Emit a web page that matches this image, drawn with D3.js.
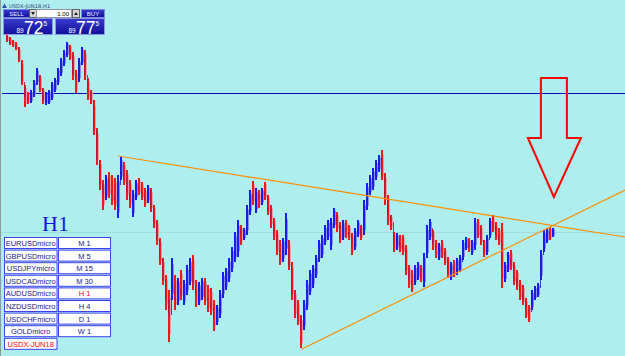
<!DOCTYPE html>
<html><head><meta charset="utf-8">
<script src="https://cdn.jsdelivr.net/npm/d3@7"></script>
<style>html,body{margin:0;padding:0;background:#AFEEEE;overflow:hidden}</style>
</head><body><svg id="c" width="625" height="356"></svg>
<script>
const chartTitle = "USDX-JUN18,H1";
const highs = [91.65,91.63,91.60,91.58,91.53,91.40,91.15,91.08,91.10,91.20,91.32,91.25,91.12,91.08,91.10,91.18,91.22,91.32,91.42,91.50,
91.58,91.55,91.48,91.30,91.42,91.53,91.50,91.22,91.10,91.00,90.72,90.40,90.20,90.25,90.28,90.25,90.22,90.25,90.43,90.38,
90.30,90.20,90.10,90.20,90.22,90.18,90.12,90.15,90.12,89.95,89.80,89.62,89.42,89.25,89.10,89.42,89.25,89.22,89.30,89.20,
89.35,89.42,89.45,89.20,89.18,89.22,89.22,89.15,89.12,89.00,88.95,89.10,89.28,89.32,89.42,89.53,89.68,89.80,89.75,89.72,
89.95,90.10,90.19,90.12,90.10,90.12,90.18,90.05,89.95,89.82,89.70,89.60,89.62,89.87,89.60,89.38,89.10,89.00,88.85,89.00,
89.20,89.30,89.35,89.45,89.60,89.65,89.75,89.80,89.82,89.92,89.88,89.78,89.80,89.80,89.75,89.67,89.72,89.80,89.75,90.00,
90.17,90.25,90.32,90.40,90.45,90.50,90.27,90.05,89.85,89.68,89.67,89.65,89.65,89.55,89.35,89.30,89.35,89.38,89.35,89.47,
89.75,89.81,89.70,89.60,89.57,89.60,89.52,89.43,89.38,89.40,89.42,89.45,89.60,89.63,89.62,89.60,89.82,89.81,89.75,89.60,
89.65,89.82,89.85,89.78,89.72,89.77,89.38,89.48,89.50,89.38,89.30,89.20,89.15,89.02,88.95,89.10,89.14,89.17,89.50,89.70,
89.72,89.73,89.72];
const lows = [91.58,91.55,91.53,91.50,91.38,91.15,90.93,90.96,90.97,91.03,91.15,91.08,90.96,90.95,90.96,91.00,91.08,91.15,91.24,91.34,
91.43,91.40,91.20,91.07,91.18,91.35,91.20,91.00,90.96,90.65,90.35,90.10,89.90,90.00,90.02,89.95,89.90,89.82,90.20,90.15,
90.00,89.92,89.83,90.00,90.05,90.00,89.93,89.97,89.88,89.72,89.55,89.35,89.15,88.90,88.58,89.00,88.90,88.95,89.00,88.95,
89.05,89.15,89.10,88.93,88.95,89.00,88.95,88.88,88.85,88.69,88.75,88.82,89.02,89.10,89.18,89.28,89.38,89.43,89.55,89.60,
89.65,89.85,89.95,89.87,89.92,89.95,90.00,89.85,89.72,89.60,89.45,89.35,89.38,89.45,89.30,89.00,88.82,88.75,88.52,88.70,
88.90,89.05,89.12,89.22,89.38,89.42,89.55,89.60,89.50,89.72,89.68,89.57,89.60,89.62,89.60,89.45,89.50,89.63,89.60,89.65,
89.90,90.05,90.10,90.20,90.28,90.20,89.95,89.75,89.70,89.48,89.50,89.48,89.45,89.25,89.12,89.08,89.15,89.20,89.18,89.13,
89.42,89.60,89.50,89.42,89.40,89.42,89.35,89.22,89.20,89.23,89.25,89.28,89.40,89.50,89.48,89.45,89.50,89.62,89.55,89.43,
89.45,89.62,89.68,89.60,89.55,89.12,89.18,89.28,89.30,89.15,89.10,89.00,88.95,88.82,88.78,88.90,89.00,89.03,89.20,89.48,
89.57,89.60,89.63];
const closes = [91.60,91.57,91.55,91.52,91.40,91.18,91.02,91.00,91.05,91.18,91.25,91.12,91.00,91.02,91.05,91.12,91.18,91.28,91.38,91.45,
91.52,91.45,91.25,91.20,91.38,91.48,91.25,91.08,91.00,90.70,90.40,90.15,90.05,90.20,90.10,90.05,90.00,90.15,90.35,90.22,
90.08,90.00,90.05,90.15,90.10,90.05,90.00,90.10,89.92,89.78,89.60,89.42,89.20,89.00,88.85,89.15,89.00,89.10,89.05,89.15,
89.25,89.30,89.15,89.05,89.10,89.15,89.02,89.00,88.92,88.80,88.90,89.05,89.20,89.25,89.35,89.45,89.60,89.70,89.65,89.68,
89.90,90.05,90.00,90.05,90.00,90.08,90.05,89.90,89.78,89.65,89.50,89.45,89.55,89.60,89.35,89.05,88.90,88.82,88.70,88.95,
89.10,89.20,89.30,89.40,89.50,89.60,89.70,89.72,89.75,89.85,89.75,89.62,89.72,89.68,89.65,89.52,89.68,89.72,89.65,89.95,
90.10,90.20,90.25,90.35,90.42,90.25,90.02,89.85,89.78,89.55,89.60,89.55,89.52,89.30,89.20,89.15,89.28,89.32,89.25,89.42,
89.68,89.72,89.55,89.50,89.52,89.48,89.40,89.28,89.32,89.30,89.35,89.38,89.55,89.58,89.52,89.55,89.75,89.72,89.60,89.48,
89.60,89.78,89.75,89.65,89.60,89.30,89.30,89.42,89.35,89.22,89.15,89.08,89.00,88.90,88.88,89.05,89.08,89.12,89.45,89.65,
89.68,89.65,89.68];
const firstOpen = 91.62;
const levelLine = 91.07;
const bidLine = 89.68;
const trendDown = [[37, 90.44], [206, 89.63]];
const trendUp = [[98.3, 88.51], [206, 90.10]];
const arrowTip = [182.3, 90.03];
const arrowTop = 91.22;
const symbols = ["EURUSDmicro","GBPUSDmicro","USDJPYmicro","USDCADmicro","AUDUSDmicro","NZDUSDmicro","USDCHFmicro","GOLDmicro","USDX-JUN18"];
const periods = ["M 1","M 5","M 15","M 30","H 1","H 4","D 1","W 1"];
const activeSymbol = "USDX-JUN18";
const activePeriod = "H 1";
const periodLabel = "H1";
const lotText = "1.00";
const sellQuote = ["89", "72", "5"];
const buyQuote = ["89", "77", "5"];

const svg = d3.select("#c");
const n = closes.length;
const x = d3.scaleLinear().domain([0, n - 1]).range([7, 553]);
const y = d3.scaleLinear().domain([88.44, 92.0]).range([356, 0]);

svg.append("rect").attr("width", 625).attr("height", 356).attr("fill", "#AFEEEE");
svg.append("line").attr("x1", 0.5).attr("x2", 0.5).attr("y1", 0).attr("y2", 356).attr("stroke", "#8c9c9c");

// bid line (faint)
const by = Math.round(y(bidLine)) + 0.5;
svg.append("line").attr("x1", 1).attr("x2", 625).attr("y1", by).attr("y2", by)
  .attr("stroke", "#9fdcdc").attr("stroke-width", 1);
// horizontal level
const ly = Math.round(y(levelLine)) + 0.5;
svg.append("line").attr("x1", 2).attr("x2", 625).attr("y1", ly).attr("y2", ly)
  .attr("stroke", "#0808b0").attr("stroke-width", 1.2);

// bars
const bars = svg.append("g");
closes.forEach((c, i) => {
  const o = i === 0 ? firstOpen : closes[i - 1];
  const up = c >= o;
  const xi = Math.round(x(i));
  const yh = y(highs[i]), yl = y(lows[i]);
  const h = Math.max(1, yl - yh);
  bars.append("rect").attr("x", xi + 1).attr("y", yh + h * 0.15).attr("width", 1).attr("height", h * 0.7)
    .attr("fill", up ? "#8c8cf4" : "#e8a0a8");
  bars.append("rect").attr("x", xi - 1).attr("y", yh).attr("width", 2).attr("height", h)
    .attr("fill", up ? "#1a1aff" : "#f01818");
  const yo = y(o), yc = y(c);
  bars.append("rect").attr("x", xi - 1).attr("y", Math.min(yo, yc)).attr("width", 1).attr("height", Math.max(1, Math.abs(yc - yo)))
    .attr("fill", up ? "#2020c8" : "#b01040").attr("opacity", 0.85);
});

// trend lines
[trendDown, trendUp].forEach(t => {
  svg.append("line").attr("x1", x(t[0][0])).attr("y1", y(t[0][1])).attr("x2", x(t[1][0])).attr("y2", y(t[1][1]))
    .attr("stroke", "#ff8c00").attr("stroke-width", 1.2);
});

// arrow
const ax = x(arrowTip[0]), ay = y(arrowTip[1]), at = y(arrowTop);
const sb = ay - 59;
svg.append("path").attr("d", `M${ax-13},${at}L${ax+13},${at}L${ax+13},${sb}L${ax+27},${sb}L${ax},${ay}L${ax-26},${sb}L${ax-13},${sb}Z`)
  .attr("fill", "none").attr("stroke", "#ff0000").attr("stroke-width", 2).attr("stroke-linejoin", "miter");

// title
svg.append("path").attr("d", "M2,8L4.5,3.5L7,8Z").attr("fill", "#3050b0");
svg.append("text").attr("x", 9).attr("y", 8).attr("font-family", "DejaVu Sans, Arial").attr("font-size", 5.2)
  .attr("fill", "#2a3a70").text(chartTitle);

// trade panel
const grad = svg.append("defs").append("linearGradient").attr("id", "bg").attr("x1", 0).attr("y1", 0).attr("x2", 0).attr("y2", 1);
grad.append("stop").attr("offset", "0").attr("stop-color", "#3a3ad0");
grad.append("stop").attr("offset", "1").attr("stop-color", "#10109a");
const pf = "Liberation Sans, Arial";
svg.append("rect").attr("x", 3.5).attr("y", 9.5).attr("width", 26).attr("height", 8).attr("fill", "url(#bg)").attr("stroke", "#7a88d8");
svg.append("text").attr("x", 16.5).attr("y", 16).attr("text-anchor", "middle").attr("font-family", pf).attr("font-size", 6).attr("fill", "#e8ecff").text("SELL");
svg.append("rect").attr("x", 29.5).attr("y", 9.5).attr("width", 7).attr("height", 8).attr("fill", "#d8d8d8").attr("stroke", "#606060");
svg.append("path").attr("d", "M31,12L35,12L33,15Z").attr("fill", "#202020");
svg.append("rect").attr("x", 36.5).attr("y", 9.5).attr("width", 35).attr("height", 8).attr("fill", "#ffffff").attr("stroke", "#9090a0");
svg.append("text").attr("x", 69).attr("y", 16).attr("text-anchor", "end").attr("font-family", pf).attr("font-size", 6).attr("fill", "#000").text(lotText);
svg.append("rect").attr("x", 72.5).attr("y", 9.5).attr("width", 7).attr("height", 8).attr("fill", "#d8d8d8").attr("stroke", "#606060");
svg.append("path").attr("d", "M74,15L78,15L76,12Z").attr("fill", "#202020");
svg.append("rect").attr("x", 81.5).attr("y", 9.5).attr("width", 23).attr("height", 8).attr("fill", "url(#bg)").attr("stroke", "#7a88d8");
svg.append("text").attr("x", 93).attr("y", 16).attr("text-anchor", "middle").attr("font-family", pf).attr("font-size", 6).attr("fill", "#e8ecff").text("BUY");

[[3.5, sellQuote], [55.5, buyQuote]].forEach(([px, q]) => {
  svg.append("rect").attr("x", px).attr("y", 18.5).attr("width", 49).attr("height", 16).attr("fill", "url(#bg)").attr("stroke", "#8a98e0");
  svg.append("text").attr("x", px + 13).attr("y", 33).attr("font-family", pf).attr("font-size", 6.5).attr("fill", "#fff").text(q[0]);
  svg.append("text").attr("x", px + 20.5).attr("y", 33.5).attr("font-family", pf).attr("font-size", 17.5).attr("fill", "#fff").text(q[1]);
  svg.append("text").attr("x", px + 40).attr("y", 25.5).attr("font-family", pf).attr("font-size", 6.5).attr("fill", "#fff").text(q[2]);
});

// period label
svg.append("text").attr("x", 42).attr("y", 231).attr("font-family", "Liberation Serif, Times New Roman").attr("font-size", 22)
  .attr("fill", "#1414d8").text(periodLabel);

// symbol/period table
const rowY = d3.scaleLinear().domain([0, 1]).range([237, 249.6]);
const tf = "Liberation Sans, Arial";
symbols.forEach((s, i) => {
  const ty = rowY(i);
  svg.append("rect").attr("x", 4.5).attr("y", ty + 0.5).attr("width", 52.5).attr("height", 11).attr("fill", "#fff").attr("stroke", "#4040f0");
  svg.append("text").attr("x", 30.7).attr("y", ty + 9).attr("text-anchor", "middle").attr("font-family", tf).attr("font-size", 7.5)
    .attr("fill", s === activeSymbol ? "#ff0000" : "#1a1a90").text(s);
});
periods.forEach((p, i) => {
  const ty = rowY(i);
  svg.append("rect").attr("x", 58.5).attr("y", ty + 0.5).attr("width", 52).attr("height", 11).attr("fill", "#fff").attr("stroke", "#4040f0");
  svg.append("text").attr("x", 84.5).attr("y", ty + 9).attr("text-anchor", "middle").attr("font-family", tf).attr("font-size", 7.5)
    .attr("fill", p === activePeriod ? "#ff0000" : "#1a1a90").text(p);
});
</script></body></html>
